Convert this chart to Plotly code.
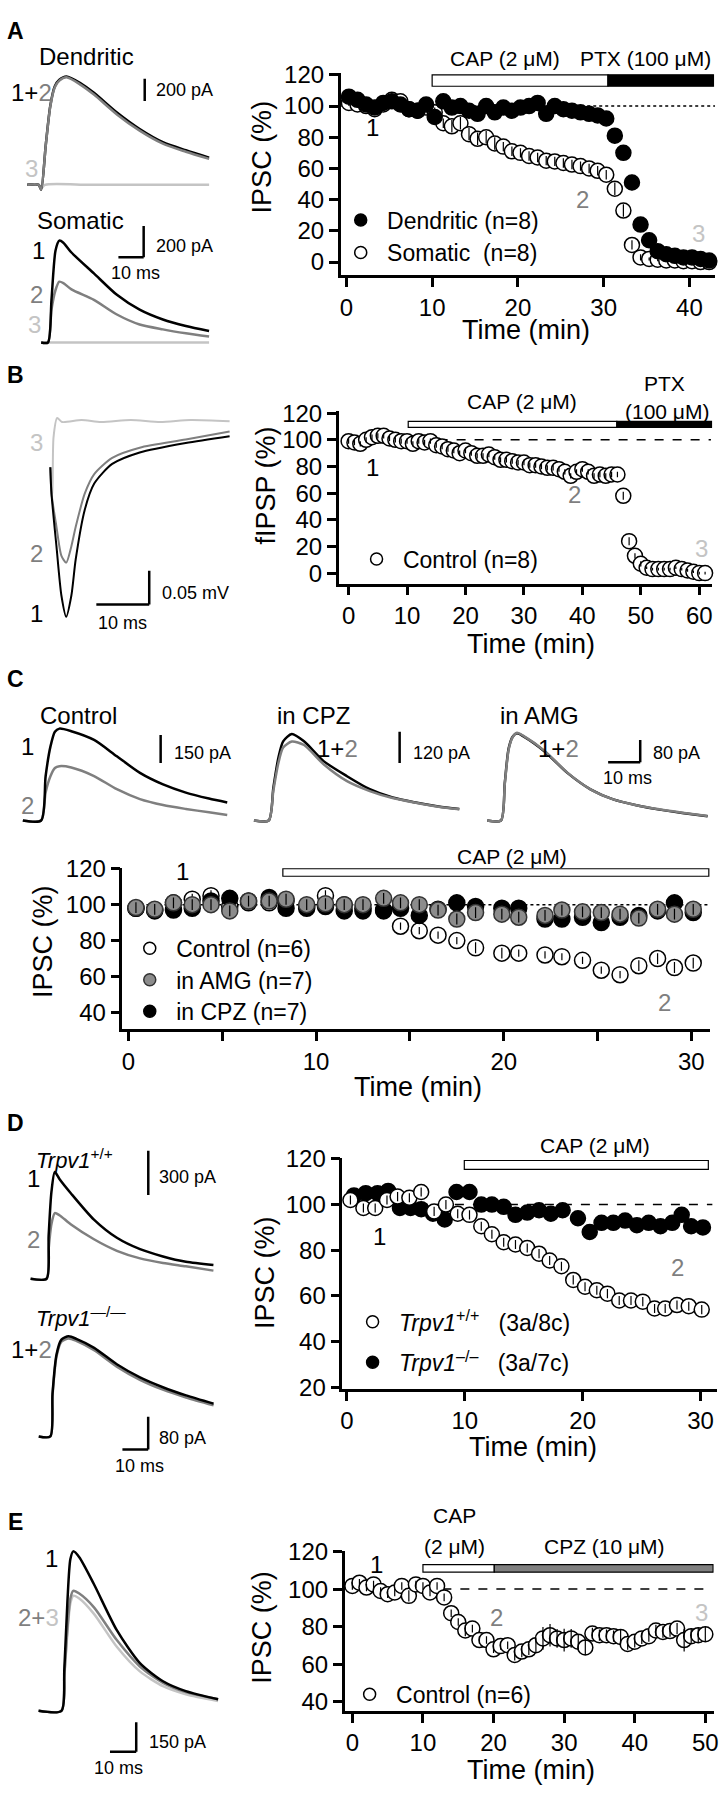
import plotly.graph_objects as go

W, H = 728, 1800
FONT = "Liberation Sans, Arial, Helvetica, sans-serif"
BLACK = "#000000"
GRAY = "#7f7f7f"
LIGHT = "#c4c4c4"
MGRAY = "#8c8c8c"

# ======================= DATA =======================
# ---- Panel A: time course (min) ----
A_time = [0.3, 1.3, 2.3, 3.3, 4.3, 5.3, 6.3, 7.3, 8.3, 9.3, 10.3, 11.3, 12.3, 13.3, 14.3,
          15.3, 16.3, 17.3, 18.3, 19.3, 20.3, 21.3, 22.3, 23.3, 24.3, 25.3, 26.3, 27.3, 28.3,
          29.3, 30.3, 31.3, 32.3, 33.3, 34.3, 35.3, 36.3, 37.3, 38.3, 39.3, 40.3, 41.3, 42.3]
A_dend = [106, 104, 101, 99, 102, 103, 101, 98, 97, 101, 93, 103, 99, 100, 97, 95, 100, 96,
          99, 97, 99, 100, 102, 95, 100, 98, 97, 96, 95, 94, 92, 81, 70, 51, 24, 14, 7, 5, 4,
          3, 3, 2, 1]
A_dend_err = [2, 2, 2, 2, 2, 2, 2, 2, 2, 2, 3, 2, 2, 2, 2, 2, 2, 2, 2, 2, 2, 2, 2, 2, 2, 2,
              2, 2, 2, 2, 2, 3, 4, 5, 3, 2, 2, 1, 1, 1, 1, 1, 1]
A_som = [102, 101, 100, 98, 101, 104, 103, 98, 97, 99, 96, 89, 87, 89, 82, 79, 80, 76, 74,
         71, 70, 68, 67, 65, 64.5, 63.5, 62.5, 61.5, 60, 58.5, 56, 47, 33, 11, 3, 2, 1.5, 1,
         1, 0.5, 0.5, 0, 0]
A_som_err = [2, 2, 2, 2, 2, 2, 2, 2, 2, 2, 3, 3, 4, 4, 4, 4, 4, 4, 3, 3, 3, 3, 3, 3, 3, 3,
             3, 3, 3, 3, 3, 4, 4, 3, 2, 1, 1, 1, 1, 1, 1, 1, 1]
# ---- Panel A: traces (ms, pA) ----
A_den_t = [-4.5, 0, 1.0, 2.8, 4.6, 6.4, 8.2, 11.0, 16.5, 21.9, 31.0, 40.0, 49.2, 58.3, 67.5]
A_den_1 = [0, 0, -44, 354, 708, 885, 943, 973, 914, 826, 649, 501, 383, 310, 244]
A_den_2 = [0, 0, -44, 350, 700, 875, 935, 965, 900, 810, 632, 486, 369, 297, 233]
A_den_3t = [-4.5, 0, 1.0, 2.5, 20, 40, 67.5]
A_den_3 = [0, 0, -30, 0, 0, 0, 0]
A_som_t = [-2.7, 0, 1.4, 3.0, 4.5, 6.1, 9.3, 18.2, 27.3, 36.3, 45.5, 54.6, 63.8]
A_som_1 = [0, 0, 273, 589, 652, 639, 576, 442, 305, 210, 147, 105, 73]
A_som_2 = [0, 0, 210, 336, 389, 380, 340, 273, 179, 115, 84, 59, 38]
A_som_3t = [-2.7, 0, 30, 63.8]
A_som_3 = [0, 0, 0, 0]

# ---- Panel B ----
B_time = list(range(0, 62))
B_fipsp = [99, 98, 97, 100, 102, 103, 103, 101, 100, 99, 99, 97, 99, 98, 99, 96, 95, 93, 92,
           90, 92, 90, 88, 88, 89, 87, 85, 85, 84, 83, 83, 81, 81, 80, 79, 79, 78, 76, 73, 76,
           78, 76, 73, 74, 73, 74, 74, 58, 24, 13, 7, 4, 3, 3, 3, 3, 4, 3, 2, 1, 0, 0]
B_err = [2, 2, 2, 2, 2, 2, 2, 2, 2, 2, 2, 2, 2, 2, 2, 2, 2, 2, 2, 2, 2, 2, 2, 2, 2, 2, 2, 2,
         2, 2, 2, 2, 2, 2, 2, 2, 2, 2, 2, 2, 2, 2, 2, 2, 2, 2, 2, 3, 3, 2, 2, 1, 1, 1, 1, 1,
         1, 1, 1, 1, 1, 1]
B_t = [0, 0.22, 1.16, 2.1, 3.0, 3.97, 4.8, 6.5, 8.3, 11.7, 16.9, 25.6, 33.9]
B_1 = [-68, -107, -185, -258, -289, -258, -204, -131, -92, -63, -46, -32, -22]
B_2 = [-68, -107, -156, -199, -209, -185, -156, -107, -78, -54, -39, -27, -15]
B_3t = [0.0, 0.4, 0.6, 1.3, 2.2, 5.9, 9.6, 15.2, 20.8, 26.5, 33.9]
B_3 = [-68, -107, -24, 5, -1, 2, -1, 2, -1, 2, 0]

# ---- Panel C ----
C_time = [0.4, 1.4, 2.4, 3.4, 4.4, 5.4, 6.4, 7.5, 8.4, 9.5, 10.5, 11.5, 12.5, 13.6, 14.5,
          15.5, 16.5, 17.5, 18.5, 19.9, 20.8, 22.2, 23.1, 24.2, 25.2, 26.2, 27.2, 28.2, 29.1, 30.1]
C_ctrl = [98, 97, 101, 103, 105, 99, 101, 101, 102, 99, 105, 100, 98, 97, 88, 85.5, 83, 80,
          76, 73, 73, 72, 71, 69, 63.5, 61, 66, 70, 65, 67.5]
C_ctrl_err = [2, 2, 2, 3, 3, 2, 2, 2, 2, 2, 3, 2, 2, 2, 2, 2, 2, 2, 3, 3, 2, 2, 2, 2, 2, 2,
              3, 3, 3, 3]
C_amg = [98.4, 97.4, 101, 100, 100, 96.5, 102, 102, 103, 100, 100.5, 100, 100, 103.5, 101,
         100, 97, 92, 95.6, 94.7, 93, 94, 97, 96, 95.6, 94.7, 92.5, 97.4, 94.7, 97.4]
C_amg_err = [3, 3, 3, 3, 3, 3, 3, 3, 3, 3, 3, 3, 3, 3, 3, 3, 3, 3, 3, 3, 3, 3, 3, 3, 3, 3,
             3, 3, 3, 3]
C_cpz = [98, 96.5, 97, 98, 102, 103.5, 102, 104, 98, 98, 99, 96.5, 96.5, 96.5, 98, 94, 97.4,
         101, 99, 98, 98, 92, 92, 93, 90, 93, 94, 96.5, 101, 95.6]
C_ctl_t = [-5.7, 0, 1.4, 2.9, 4.3, 5.7, 9.4, 16.5, 23.6, 30.8, 38.0, 45.1, 52.3, 58.0]
C_ctl_1 = [0, 0, 238, 397, 477, 494, 480, 433, 345, 256, 194, 150, 118, 97]
C_ctl_2 = [0, 0, 151, 238, 282, 292, 285, 239, 168, 115, 83, 62, 44, 30]
C_cpz_t = [-4.6, 0, 1.45, 3.0, 4.5, 7.2, 11.0, 17.2, 24.4, 31.5, 38.6, 45.8, 52.9, 59.4]
C_cpz_1 = [0, 0, 126, 240, 304, 332, 304, 227, 170, 120, 88, 69, 54, 44]
C_cpz_2 = [0, 0, 115, 220, 280, 303, 290, 215, 151, 113, 86, 68, 53, 43]
C_amg_t = [-4.3, 0, 1.2, 2.4, 3.7, 5.0, 7.0, 13.6, 20.7, 27.9, 35.0, 42.2, 49.4, 56.5, 64.4]
C_amg_1 = [0, 0, 136, 259, 302, 313, 302, 248, 171, 112, 76, 55, 39, 27, 15]
C_amg_2 = [0, 0, 132, 255, 300, 315, 304, 250, 172, 112, 76, 55, 40, 28, 16]

# ---- Panel D ----
D_wt_time = [0.3, 1.4, 2.4, 3.4, 4.3, 5.3, 6.3, 7.4, 8.4, 9.4, 10.4, 11.4, 12.3, 13.3, 14.3,
             15.3, 16.3, 17.2, 18.2, 19.2, 20.2, 21.2, 22.1, 23.1, 24.1, 25.1, 26.1, 27.0,
             28.0, 29.0, 30.1]
D_wt = [102, 98.5, 98.5, 102, 103.5, 103, 105.5, 97, 100, 96, 95.5, 90.5, 87, 83.5, 82.5,
        81, 78.5, 75.5, 73, 67, 64, 62.5, 61, 58, 58, 57.5, 54.5, 54.5, 56, 55.5, 54]
D_wt_err = [2, 2, 2, 2, 2, 2, 2, 2, 2, 2, 2, 2, 2, 2, 2, 2, 2, 2, 2, 2, 2, 2, 2, 2, 2, 2, 2,
            2, 2, 2, 2]
D_ko_time = [0.6, 1.6, 2.6, 3.5, 4.5, 5.4, 6.3, 7.3, 8.3, 9.3, 10.4, 11.4, 12.3, 13.3, 14.3,
             15.3, 16.3, 17.3, 18.3, 19.6, 20.6, 21.6, 22.6, 23.6, 24.6, 25.6, 26.6, 27.6,
             28.4, 29.2, 30.2]
D_ko = [104, 105, 105, 106, 98.5, 98.5, 98, 96, 93.5, 105.5, 105.5, 100, 100, 99, 95.5, 96.5,
        97.5, 96, 97.5, 94, 88, 92, 92, 93, 91, 92, 90.5, 92, 95.5, 90.5, 90]
D_ko_err = [2, 2, 2, 2, 2, 2, 2, 2, 2, 2, 2, 2, 2, 2, 2, 2, 2, 2, 2, 2, 2, 2, 2, 2, 2, 2, 2,
            2, 3, 3, 2]
D_wt_t = [-6.2, 0, 0.8, 1.9, 3.2, 5.0, 9.5, 18.4, 27.3, 36.3, 45.2, 54.1, 64.8]
D_wt_1 = [0, 0, 289, 589, 722, 675, 577, 400, 277, 200, 151, 115, 93]
D_wt_2 = [0, 0, 200, 370, 444, 430, 367, 267, 189, 138, 107, 84, 55]
D_ko_t = [-4.5, 0, 0.85, 2.4, 4.3, 7.1, 10.1, 17.0, 25.8, 34.8, 43.7, 52.7, 63.4]
D_ko_1 = [0, 0, 104, 200, 236, 244, 238, 216, 176, 144, 120, 100, 80]
D_ko_2 = [0, 0, 100, 195, 231, 239, 233, 210, 170, 138, 114, 95, 76]

# ---- Panel E ----
E_time = list(range(0, 51))
E_ipsc = [101.7, 103.4, 100.8, 102.5, 99, 97.3, 98.2, 101.7, 96.4, 102.5, 101.7, 98.2, 101.7,
          95.6, 87.2, 82.5, 78, 79, 72.9, 72.9, 68, 69.7, 70.2, 65, 66.8, 68, 70.2, 73.8, 75.5,
          73.8, 72.9, 73.8, 72, 69, 76.4, 75.5, 75.5, 75, 74.6, 70.8, 72, 73.8, 75, 78, 77.2,
          77.7, 79, 72.9, 75, 75.5, 76]
E_err = [2, 2, 2, 2, 2, 2, 2, 2, 3, 2, 2, 2, 2, 2, 2, 2, 3, 2, 2, 2, 2, 2, 2, 3, 3, 3, 4, 6,
         6, 5, 6, 5, 4, 4, 3, 3, 3, 3, 4, 3, 3, 3, 3, 3, 3, 3, 3, 6, 4, 4, 4]
E_t = [-8.7, 0, 1.1, 2.3, 3.4, 4.5, 6.8, 12.4, 21.1, 29.9, 38.7, 47.4, 59.7]
E_1 = [0, 0, 209, 559, 769, 809, 779, 642, 409, 242, 150, 100, 59]
E_2 = [0, 0, 180, 420, 570, 609, 595, 525, 359, 225, 142, 95, 59]
E_3 = [0, 0, 170, 400, 545, 584, 570, 492, 325, 200, 125, 84, 50]

# ======================= FIGURE HELPERS =======================
TICK = 24
TITLE = 27
LEG = 23
LBL = 24
SCL = 18
BAR = 21

fig = go.Figure()
layout = {}
shapes = []
annotations = []
cnt = [0]


def fx(px):
    return px / W


def fy(py):
    return 1 - py / H


def new_axes(box, xr, yr, show=False, xt=None, yt=None, xminor=None):
    cnt[0] += 1
    i = cnt[0]
    sfx = "" if i == 1 else str(i)
    left, right, top, bottom = box
    xref, yref = "x" + sfx, "y" + sfx
    base = dict(showgrid=False, zeroline=False, fixedrange=True)
    if show:
        st = dict(showline=True, linecolor=BLACK, linewidth=2.5, ticks="outside", ticklen=9,
                  tickwidth=2.5, tickcolor=BLACK, mirror=False, ticklabeloverflow="allow",
                  tickfont=dict(family=FONT, size=TICK, color=BLACK))
        xa = dict(base, **st, tickvals=xt, ticktext=[str(v) for v in xt])
        if xminor:
            xa["minor"] = dict(tickvals=xminor, ticks="outside", ticklen=9, tickwidth=2.5,
                               tickcolor=BLACK, showgrid=False)
        ya = dict(base, **st, tickvals=yt, ticktext=[str(v) for v in yt])
    else:
        xa = dict(base, visible=False)
        ya = dict(base, visible=False)
    layout["xaxis" + sfx] = dict(xa, domain=[fx(left), fx(right)], range=xr, anchor=yref)
    layout["yaxis" + sfx] = dict(ya, domain=[fy(bottom), fy(top)], range=yr, anchor=xref)
    return xref, yref


def trace_axes(box, x0, y0, sx, sy):
    left, right, top, bottom = box
    xr = [(left - x0) / sx, (right - x0) / sx]
    yr = [(y0 - bottom) / sy, (y0 - top) / sy]
    return new_axes(box, xr, yr)


def ann(text, px, py, size=LBL, color=BLACK, xanchor="center", yanchor="middle", angle=0,
        bold=False):
    annotations.append(dict(text=("<b>%s</b>" % text) if bold else text, x=fx(px), y=fy(py),
                            xref="paper", yref="paper", showarrow=False, xanchor=xanchor,
                            yanchor=yanchor, textangle=angle,
                            font=dict(family=FONT, size=size, color=color)))


def line_trace(ax, t, v, color, width=2.5):
    fig.add_trace(go.Scatter(x=t, y=v, mode="lines", xaxis=ax[0], yaxis=ax[1],
                             line=dict(color=color, width=width, shape="spline", smoothing=0.7),
                             showlegend=False, hoverinfo="skip"))


def sbar(ax, pts):
    for (x0, y0, x1, y1) in pts:
        shapes.append(dict(type="line", xref=ax[0], yref=ax[1], x0=x0, y0=y0, x1=x1, y1=y1,
                           line=dict(color=BLACK, width=2.5)))


def marker_style(kind, size):
    if kind == "open":
        return dict(symbol="circle", size=size, color="white", line=dict(color=BLACK, width=1.5))
    if kind == "gray":
        return dict(symbol="circle", size=size, color=MGRAY, line=dict(color="#333333", width=1.5))
    return dict(symbol="circle", size=size, color=BLACK, line=dict(color=BLACK, width=1.5))


def points(ax, t, v, err, kind, size=15):
    fig.add_trace(go.Scatter(x=t, y=v, mode="markers", xaxis=ax[0], yaxis=ax[1],
                             marker=marker_style(kind, size), cliponaxis=False,
                             showlegend=False, hoverinfo="skip"))
    if err is not None:
        fig.add_trace(go.Scatter(x=t, y=v, mode="markers", xaxis=ax[0], yaxis=ax[1],
                                 marker=dict(size=1, color="rgba(0,0,0,0)"), cliponaxis=False,
                                 error_y=dict(type="data", array=err, color=BLACK,
                                              thickness=1.2, width=0),
                                 showlegend=False, hoverinfo="skip"))


leg_n = [0]


def legend_item(label, kind, px_marker, py, size=12):
    leg_n[0] += 1
    k = leg_n[0]
    lid = "legend" if k == 1 else "legend%d" % k
    fig.add_trace(go.Scatter(x=[None], y=[None], mode="markers",
                             name="\u00a0" + label,
                             marker=marker_style(kind, size), legend=lid, showlegend=True))
    layout[lid] = dict(x=fx(px_marker - 20), y=fy(py), xanchor="left", yanchor="middle",
                       bgcolor="rgba(0,0,0,0)", borderwidth=0, itemclick=False,
                       itemdoubleclick=False,
                       font=dict(family=FONT, size=LEG, color=BLACK))


def rect(ax, x0, x1, y0, y1, fill):
    shapes.append(dict(type="rect", xref=ax[0], yref=ax[1], x0=x0, x1=x1, y0=y0, y1=y1,
                       fillcolor=fill, line=dict(color=BLACK, width=1.2), layer="above"))


def hline(ax, x0, x1, y, dash):
    shapes.append(dict(type="line", xref=ax[0], yref=ax[1], x0=x0, x1=x1, y0=y, y1=y,
                       line=dict(color=BLACK, width=1.5, dash=dash), layer="below"))


def g(t):
    return '<span style="color:%s">%s</span>' % (GRAY, t)


def lg(t):
    return '<span style="color:%s">%s</span>' % (LIGHT, t)


# ======================= PANEL A =======================
ann("A", 14, 17, size=23, bold=True)
axd = trace_axes((20, 215, 55, 185), 37, 173.3, 2.55, 0.113)
line_trace(axd, A_den_3t, A_den_3, LIGHT)
line_trace(axd, A_den_t, A_den_1, BLACK)
line_trace(axd, A_den_t, A_den_2, GRAY)
sbar(axd, [(42, 752, 42, 952)])
ann("Dendritic", 85, 43)
ann("1+" + g("2"), 30, 80)
ann(lg("3"), 30, 157)
ann("200 pA", 153, 77, size=SCL, xanchor="left")

axs = trace_axes((20, 215, 200, 345), 46.4, 333.3, 2.55, 0.1585)
line_trace(axs, A_som_3t, A_som_3, LIGHT)
line_trace(axs, A_som_t, A_som_2, GRAY)
line_trace(axs, A_som_t, A_som_1, BLACK)
sbar(axs, [(37.9, 546, 37.9, 746), (27.9, 546, 37.9, 546)])
ann("Somatic", 79, 210)
ann("1", 37, 240)
ann(g("2"), 35, 285)
ann(lg("3"), 33, 315)
ann("200 pA", 153, 235, size=SCL, xanchor="left")
ann("10 ms", 135, 263, size=SCL)

axA = new_axes((342, 720, 60, 265), [-0.66, 42.99], [-8.4, 121.1], show=True,
               xt=[0, 10, 20, 30, 40], yt=[0, 20, 40, 60, 80, 100, 120])
hline(axA, -0.6, 43, 100, "dot")
rect(axA, 10, 30.5, 112.7, 120, "white")
rect(axA, 30.5, 42.8, 112.7, 120, BLACK)
points(axA, A_time, A_som, A_som_err, "open", 15)
points(axA, A_time, A_dend, A_dend_err, "black", 15)
ann("CAP (2 μM)", 508, 45, size=BAR)
ann("PTX (100 μM)", 650, 45, size=BAR)
ann("1", 374, 115)
ann(g("2"), 586, 188)
ann(lg("3"), 703, 223)
ann("Time (min)", 529, 321, size=TITLE)
ann("IPSC (%)", 262, 145, size=TITLE, angle=-90)
legend_item("Dendritic (n=8)", "black", 362, 209)
legend_item("Somatic  (n=8)", "open", 362, 242)

# ======================= PANEL B =======================
ann("B", 14, 366, size=23, bold=True)
axb = trace_axes((25, 235, 395, 625), 48.8, 413.3, 5.34, 0.686)
line_trace(axb, B_3t, B_3, LIGHT, 2)
line_trace(axb, B_t, B_2, GRAY, 2)
line_trace(axb, B_t, B_1, BLACK, 2)
sbar(axb, [(18.7, -271, 18.7, -221), (8.7, -271, 18.7, -271)])
ann(lg("3"), 35, 435)
ann(g("2"), 35, 547)
ann("1", 35, 608)
ann("0.05 mV", 160, 587, size=SCL, xanchor="left")
ann("10 ms", 122, 618, size=SCL)

axB = new_axes((340, 717, 403, 578), [-1.69, 62.2], [-7.9, 121.5], show=True,
               xt=[0, 10, 20, 30, 40, 50, 60], yt=[0, 20, 40, 60, 80, 100, 120])
hline(axB, 0, 62, 100, "dash")
rect(axB, 10.2, 45.9, 109.4, 113.9, "white")
rect(axB, 45.9, 62.2, 109.4, 113.9, BLACK)
points(axB, B_time, B_fipsp, B_err, "open", 15)
ann("CAP (2 μM)", 525, 393, size=BAR)
ann("PTX", 669, 375, size=BAR)
ann("(100 μM)", 671, 403, size=BAR)
ann("1", 374, 460)
ann(g("2"), 578, 488)
ann(lg("3"), 706, 542)
ann("Time (min)", 534, 639, size=TITLE)
ann("fIPSP (%)", 267, 478, size=TITLE, angle=-90)
legend_item("Control (n=8)", "open", 378, 553)

# ======================= PANEL C =======================
ann("C", 14, 675, size=23, bold=True)
axc1 = trace_axes((15, 235, 715, 825), 39.5, 818.3, 3.24, 0.1887)
line_trace(axc1, C_ctl_t, C_ctl_2, GRAY)
line_trace(axc1, C_ctl_t, C_ctl_1, BLACK)
sbar(axc1, [(37.25, 309, 37.25, 459)])
ann("Control", 77, 712)
ann("1", 25.5, 743)
ann(g("2"), 25.5, 803)
ann("150 pA", 172, 750, size=SCL, xanchor="left")

axc2 = trace_axes((248, 468, 715, 825), 269.3, 818.3, 3.24, 0.2642)
line_trace(axc2, C_cpz_t, C_cpz_1, BLACK)
line_trace(axc2, C_cpz_t, C_cpz_2, GRAY)
sbar(axc2, [(40.8, 220.7, 40.8, 340.6)])
ann("in CPZ", 315, 712)
ann("1+" + g("2"), 316, 745, xanchor="left")
ann("120 pA", 413, 750, size=SCL, xanchor="left")

axc3 = trace_axes((482, 718, 715, 825), 503.8, 818.3, 3.24, 0.2825)
line_trace(axc3, C_amg_t, C_amg_1, BLACK)
line_trace(axc3, C_amg_t, C_amg_2, GRAY)
sbar(axc3, [(43.4, 208.8, 43.4, 288.8), (33.4, 208.8, 43.4, 208.8)])
ann("in AMG", 543, 712)
ann("1+" + g("2"), 539, 745, xanchor="left")
ann("80 pA", 655, 750, size=SCL, xanchor="left")
ann("10 ms", 632, 775, size=SCL)

axC = new_axes((121.6, 715, 866.7, 1030), [-0.32, 31.0], [30.7, 120.3], show=True,
               xt=[0, 10, 20, 30], yt=[40, 60, 80, 100, 120], xminor=[5, 15, 25])
hline(axC, 0, 31, 100, "dot")
rect(axC, 8.23, 30.93, 115.8, 120, "white")
points(axC, C_time, C_ctrl, C_ctrl_err, "open", 16)
points(axC, C_time, C_cpz, None, "black", 16)
points(axC, C_time, C_amg, C_amg_err, "gray", 16)
ann("CAP (2 μM)", 515, 855, size=BAR)
ann("1", 182, 870)
ann(g("2"), 669, 1003)
ann("Time (min)", 420, 1089, size=TITLE)
ann("IPSC (%)", 42, 941, size=TITLE, angle=-90)
legend_item("Control (n=6)", "open", 149, 948)
legend_item("in AMG (n=7)", "gray", 149, 980)
legend_item("in CPZ (n=7)", "black", 149, 1012)

# ======================= PANEL D =======================
ann("D", 14, 1125, size=23, bold=True)
axd1 = trace_axes((20, 220, 1150, 1292), 45, 1283.3, 2.6, 0.15)
line_trace(axd1, D_wt_t, D_wt_2, GRAY)
line_trace(axd1, D_wt_t, D_wt_1, BLACK)
sbar(axd1, [(39.5, 566.7, 39.5, 866.7)])
ann("<i>Trpv1</i><sup>+/+</sup>", 32, 1162, size=22, xanchor="left")
ann("1", 31.6, 1182)
ann(g("2"), 31.6, 1243)
ann("300 pA", 157, 1180, size=SCL, xanchor="left")

axd2 = trace_axes((20, 220, 1330, 1460), 48.8, 1443.3, 2.6, 0.4163)
line_trace(axd2, D_ko_t, D_ko_2, GRAY)
line_trace(axd2, D_ko_t, D_ko_1, BLACK)
sbar(axd2, [(38, -32, 38, 48), (28, -32, 38, -32)])
ann("<i>Trpv1</i><sup>—/—</sup>", 32, 1322, size=22, xanchor="left")
ann("1+" + g("2"), 30, 1355)
ann("80 pA", 157, 1445, size=SCL, xanchor="left")
ann("10 ms", 139, 1473, size=SCL)

axD = new_axes((343.6, 722, 1161, 1395), [-0.39, 31.4], [19.3, 120.3], show=True,
               xt=[0, 10, 20, 30], yt=[20, 40, 60, 80, 100, 120])
hline(axD, 0, 31, 100, "dash")
rect(axD, 9.96, 30.66, 115.4, 119.3, "white")
points(axD, D_ko_time, D_ko, D_ko_err, "black", 15)
points(axD, D_wt_time, D_wt, D_wt_err, "open", 15)
ann("CAP (2 μM)", 599, 1148, size=BAR)
ann("1", 381, 1240)
ann(g("2"), 682, 1272)
ann("Time (min)", 536, 1454, size=TITLE)
ann("IPSC (%)", 265, 1277, size=TITLE, angle=-90)
legend_item("<i>Trpv1</i><sup>+/+</sup>\u00a0\u00a0 (3a/8c)", "open", 374, 1327)
legend_item("<i>Trpv1</i><sup>\u2013/\u2013</sup>\u00a0\u00a0 (3a/7c)", "black", 374, 1368)

# ======================= PANEL E =======================
ann("E", 14, 1530, size=23, bold=True)
axe = trace_axes((30, 225, 1550, 1770), 60, 1721.7, 2.65, 0.2)
line_trace(axe, E_t, E_3, LIGHT)
line_trace(axe, E_t, E_2, GRAY)
line_trace(axe, E_t, E_1, BLACK)
sbar(axe, [(28.5, -208, 28.5, -58), (18.5, -208, 28.5, -208)])
ann("1", 50, 1567)
ann(g("2+") + lg("3"), 37, 1627)
ann("150 pA", 146, 1753, size=SCL, xanchor="left")
ann("10 ms", 118, 1780, size=SCL)

axE = new_axes((346, 718.7, 1560, 1721.7), [-1.09, 51.2], [35.3, 120], show=True,
               xt=[0, 10, 20, 30, 40, 50], yt=[40, 60, 80, 100, 120])
hline(axE, 0, 51, 100, "dash")
rect(axE, 10, 20.1, 109, 113, "white")
rect(axE, 20.1, 51.1, 109, 113, "#808080")
points(axE, E_time, E_ipsc, E_err, "open", 15)
ann("CAP", 457, 1523, size=BAR)
ann("(2 μM)", 457, 1555, size=BAR)
ann("CPZ (10 μM)", 608, 1555, size=BAR)
ann("1", 378, 1573)
ann(g("2"), 499, 1627)
ann(lg("3"), 706, 1622)
ann("Time (min)", 534, 1782, size=TITLE)
ann("IPSC (%)", 263, 1637, size=TITLE, angle=-90)
legend_item("Control (n=6)", "open", 371, 1705)

fig.update_layout(width=W, height=H, margin=dict(l=0, r=0, t=0, b=0), paper_bgcolor="white",
                  plot_bgcolor="white", showlegend=True, shapes=shapes, annotations=annotations,
                  font=dict(family=FONT, color=BLACK), **layout)
fig.write_html("out.html", config={"displayModeBar": False},
               post_script="document.body.style.margin='0';document.body.style.padding='0';"
                           "document.documentElement.style.margin='0';")
